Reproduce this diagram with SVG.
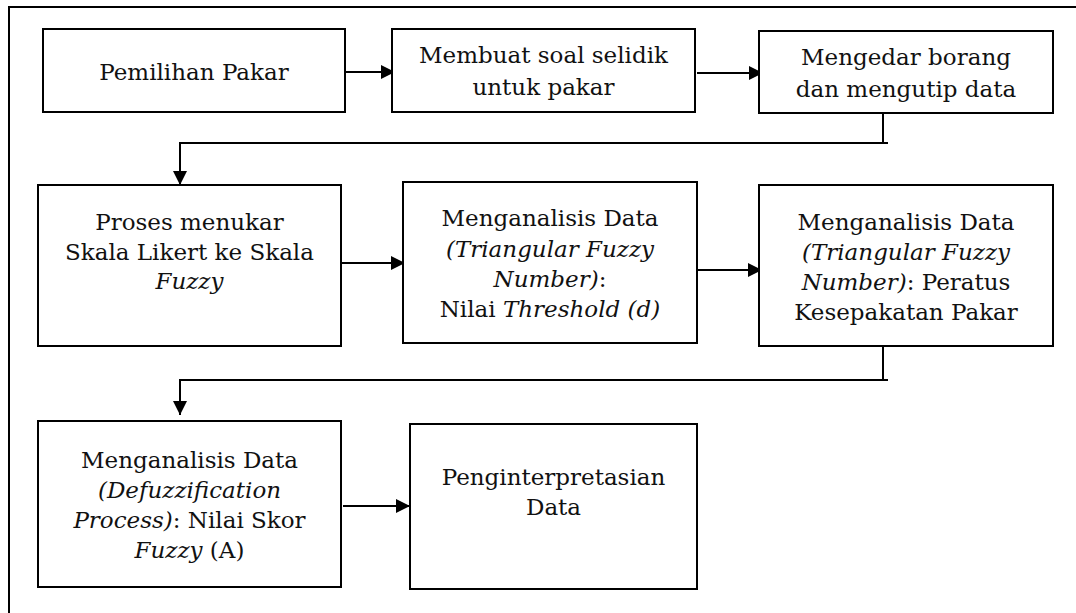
<svg xmlns="http://www.w3.org/2000/svg" width="1076" height="613" viewBox="0 0 1076 613">
<style>
.box{fill:#fff;stroke:#000;stroke-width:2}
.ln{fill:none;stroke:#000;stroke-width:2}
text{font-family:"DejaVu Serif","Liberation Serif",serif;font-size:23px;fill:#111;text-anchor:middle}
.i{font-style:italic}
</style>
<defs>
<marker id="ah" markerUnits="userSpaceOnUse" markerWidth="14" markerHeight="14" refX="14" refY="7" orient="auto">
<path d="M0,0 L14,7 L0,14 z" fill="#000"/>
</marker>
</defs>
<rect width="1076" height="613" fill="#fff"/>
<path class="ln" d="M9,613 V7 H1076"/>
<g id="connectors">
<path class="ln" d="M345,72 H395" marker-end="url(#ah)"/>
<path class="ln" d="M697,73 H763" marker-end="url(#ah)"/>
<path class="ln" d="M883,113 V143"/>
<path class="ln" d="M888,143 H180 V185" marker-end="url(#ah)"/>
<path class="ln" d="M341,263 H405" marker-end="url(#ah)"/>
<path class="ln" d="M698,270 H762" marker-end="url(#ah)"/>
<path class="ln" d="M883,346 V380"/>
<path class="ln" d="M888,380 H180 V415" marker-end="url(#ah)"/>
<path class="ln" d="M343,506 H410" marker-end="url(#ah)"/>
</g>
<g id="n1"><rect class="box" x="43" y="29" width="302" height="83"/>
<text x="194" y="80">Pemilihan Pakar</text></g>
<g id="n2"><rect class="box" x="392" y="29" width="303" height="83"/>
<text x="543.5" y="63">Membuat soal selidik</text>
<text x="543.5" y="95">untuk pakar</text></g>
<g id="n3"><rect class="box" x="759" y="31" width="294" height="82"/>
<text x="906" y="65">Mengedar borang</text>
<text x="906" y="97">dan mengutip data</text></g>
<g id="n4"><rect class="box" x="38" y="185" width="303" height="161"/>
<text x="189.5" y="230">Proses menukar</text>
<text x="189.5" y="260">Skala Likert ke Skala</text>
<text x="189.5" y="289" class="i">Fuzzy</text></g>
<g id="n5"><rect class="box" x="403" y="182" width="294" height="161"/>
<text x="550" y="226">Menganalisis Data</text>
<text x="550" y="257" class="i">(Triangular Fuzzy</text>
<text x="550" y="287"><tspan class="i">Number)</tspan>:</text>
<text x="550" y="317">Nilai <tspan class="i">Threshold (d)</tspan></text></g>
<g id="n6"><rect class="box" x="759" y="185" width="294" height="161"/>
<text x="906" y="230">Menganalisis Data</text>
<text x="906" y="260" class="i">(Triangular Fuzzy</text>
<text x="906" y="290"><tspan class="i">Number)</tspan>: Peratus</text>
<text x="906" y="320">Kesepakatan Pakar</text></g>
<g id="n7"><rect class="box" x="38" y="421" width="303" height="166"/>
<text x="189.5" y="468">Menganalisis Data</text>
<text x="189.5" y="498" class="i">(Defuzzification</text>
<text x="189.5" y="528"><tspan class="i">Process)</tspan>: Nilai Skor</text>
<text x="189.5" y="558"><tspan class="i">Fuzzy</tspan> (A)</text></g>
<g id="n8"><rect class="box" x="410" y="424" width="287" height="165"/>
<text x="553.5" y="485">Penginterpretasian</text>
<text x="553.5" y="515">Data</text></g>
</svg>
